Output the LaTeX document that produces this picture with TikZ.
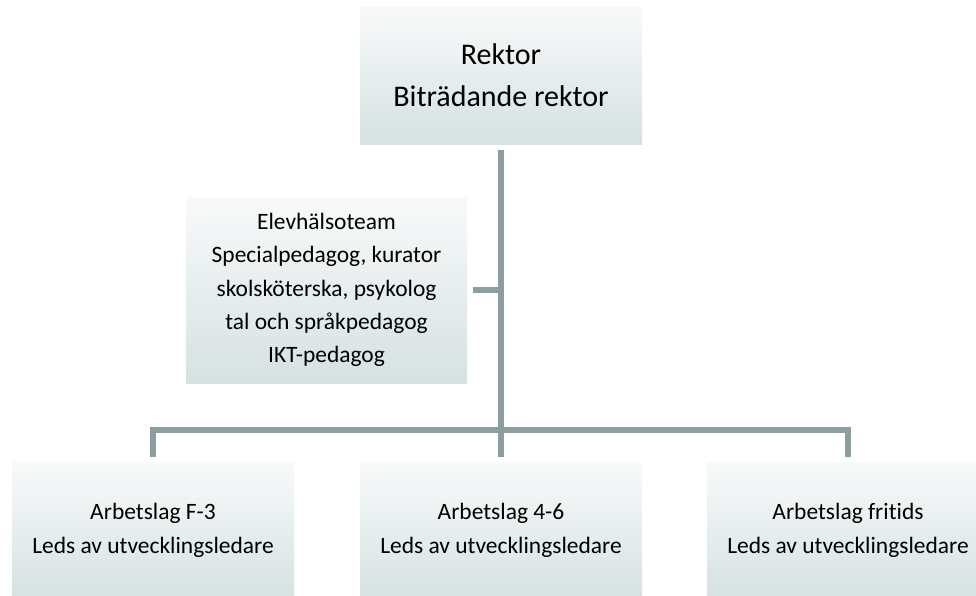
\documentclass[tikz,border=0pt]{standalone}
\usepackage{fontspec}
\setmainfont[RawFeature=-liga]{Carlito}
\usepackage{tikz}
\usetikzlibrary{positioning, calc}
\definecolor{boxtop}{RGB}{248, 250, 250}
\definecolor{boxbottom}{RGB}{214, 225, 226}
\definecolor{linegray}{RGB}{140, 158, 160}

\tikzset{
    orgbox/.style={shape=rectangle, top color=boxtop, bottom color=boxbottom,
        minimum width=211.5pt, minimum height=102.75pt, align=center, inner sep=0pt},
    smalltext/.style={font=\fontsize{17.6}{25}\selectfont},
    link/.style={draw=linegray, line width=4.5pt, line join=miter}
}

\begin{document}
\begin{tikzpicture}[x=0.75pt, y=-0.75pt]
    \clip (0,0) rectangle (976,596);

    % Ledning
    \node[orgbox, font=\fontsize{22.5}{31.5}\selectfont] (rektor) at (501,75.5)
        {Rektor\\Biträdande rektor};

    % Elevhälsa
    \node[orgbox, smalltext, minimum width=210.75pt, minimum height=139.5pt] (elev) at (326.5,290)
        {Elevhälsoteam\\Specialpedagog, kurator\\skolsköterska, psykolog\\tal och språkpedagog\\IKT-pedagog};

    % Arbetslag
    \node[orgbox, smalltext] (lagF) at (153,530.5)
        {Arbetslag F-3\\Leds av utvecklingsledare};
    \node[orgbox, smalltext] (lagM) at (501,530.5)
        {Arbetslag 4-6\\Leds av utvecklingsledare};
    \node[orgbox, smalltext] (lagFri) at (848,530.5)
        {Arbetslag fritids\\Leds av utvecklingsledare};

    % Linjer
    \coordinate (bar) at (501,429.5);
    \draw[link, shorten <=4.5pt] (rektor.south) -- (bar);
    \draw[link, shorten <=4.5pt] (elev.east) -- (elev.east -| rektor.south);
    \draw[link, shorten <=3.75pt, shorten >=3.75pt] (lagF.north) |- (bar) -| (lagFri.north);
    \draw[link, shorten >=3.75pt] (bar) -- (lagM.north);
\end{tikzpicture}
\end{document}
